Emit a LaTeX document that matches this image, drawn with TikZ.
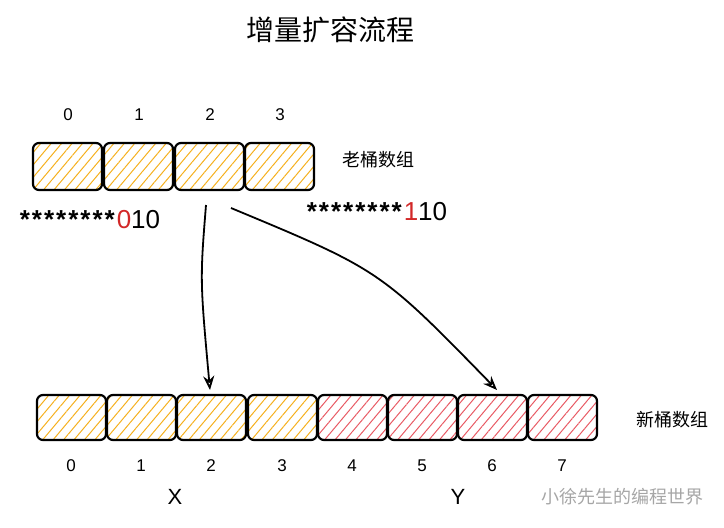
\documentclass[tikz,border=0pt]{standalone}
\usepackage{fontspec}
\setmainfont{Liberation Sans}
\newfontfamily\cjk{Noto Sans CJK SC}
\usepackage{tikz}
\usetikzlibrary{patterns.meta,arrows.meta}
\definecolor{hatchorange}{RGB}{245,176,30}
\definecolor{hatchred}{RGB}{232,90,100}
\definecolor{bitred}{RGB}{210,40,40}
\newcommand{\starrun}{\textbf{*\kern2pt*\kern2pt*\kern2pt*\kern2pt*\kern2pt*\kern2pt*\kern2pt*\kern2pt}}
\tikzset{
  oldcell/.style={draw, line width=2.2pt, rounded corners=6pt,
    pattern={Lines[angle=50,distance=8pt,line width=1pt]}, pattern color=hatchorange},
  redcell/.style={oldcell, pattern color=hatchred},
  idx/.style={font=\fontsize{17}{17}\selectfont},
  bits/.style={font=\fontsize{26}{26}\selectfont},
  link/.style={-{Stealth[length=14pt,width=11pt,open]}, line width=1.8pt},
}
\begin{document}
\begin{tikzpicture}[x=1pt,y=-1pt]
\useasboundingbox (0,0) rectangle (724,528);
\node (title) at (330,30) {\cjk\fontsize{28}{28}\selectfont 增量扩容流程};
% old array
\foreach \i/\xa in {0/33,1/104,2/175,3/245}{
  \draw[oldcell] (\xa,143) rectangle +(69,47);
  \node[idx] (oi\i) at (\xa+35,115) {\i};
}
\node (oldlabel) at (378,160) {\cjk\fontsize{18}{18}\selectfont 老桶数组};
\node[bits] (binx) at (90,220) {\starrun\textcolor{bitred}{0}10};
\node[bits] (biny) at (377,212) {\starrun\textcolor{bitred}{1}10};
% new array
\foreach \i/\xa/\st in {0/37/oldcell,1/107/oldcell,2/177/oldcell,3/248/oldcell,4/318/redcell,5/388/redcell,6/458/redcell,7/528/redcell}{
  \draw[\st] (\xa,395) rectangle +(69,45);
  \node[idx] (ni\i) at (\xa+34,466) {\i};
}
\node (newlabel) at (672,420) {\cjk\fontsize{18}{18}\selectfont 新桶数组};
\node[font=\fontsize{22}{22}\selectfont] (X) at (175,497) {X};
\node[font=\fontsize{22}{22}\selectfont] (Y) at (458,497) {Y};
% arrows
\coordinate (sx) at (206,205);
\coordinate (ex) at (210,390);
\coordinate (sy) at (231,208);
\coordinate (ey) at (497,390);
\draw[link] (sx) .. controls (200,280) .. (ex);
\draw[link] (sy) .. controls (380,270) .. (ey);
\node[text=black!35] (mark) at (622,497) {\cjk\fontsize{18}{18}\selectfont 小徐先生的编程世界};
\end{tikzpicture}
\end{document}
